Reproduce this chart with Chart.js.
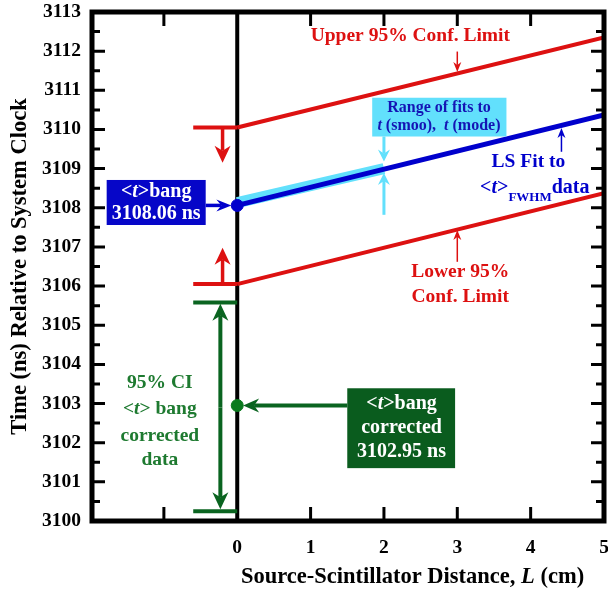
<!DOCTYPE html>
<html>
<head>
<meta charset="utf-8">
<script src="https://cdn.jsdelivr.net/npm/chart.js@4.4.0/dist/chart.umd.min.js"></script>
<style>
  html, body { margin: 0; padding: 0; background: #fff; }
  #wrap { width: 608px; height: 591px; }
</style>
</head>
<body>
<div id="wrap"><canvas id="chart" width="608" height="591"></canvas></div>
<script>
// --- data ---
const xRange = [-1.98, 5];
const yRange = [3100, 3113];
const fitX = [0, 5];
const fitY = [3108.06, 3110.37];      // LS fit to <t>FWHM
const upperY = [3110.05, 3112.35];    // upper 95% conf. limit
const lowerY = [3106.05, 3108.37];    // lower 95% conf. limit
const rangeX = [0, 2];
const rangeY = [3108.13, 3109.0];     // range of fits t(smoo), t(mode)
const bangT = 3108.06;
const correctedT = 3102.95;
const ciLimits = [3105.58, 3100.25];
const markerX = [-0.6, 0];

const SERIF = "'Liberation Serif', 'Times New Roman', serif";
const RED = '#dd1111';
const BLUE = '#0000cc';
const CYAN = '#62e0fc';
const GREEN = '#0a6420';

function pts(xs, ys) {
    return xs.map((x, i) => ({ x: x, y: ys[i] }));
}

function lineSet(data, color, width, order) {
    return {
        data: data,
        showLine: true,
        borderColor: color,
        borderWidth: width,
        pointRadius: 0,
        borderCapStyle: 'butt',
        order: order
    };
}

// draw text made of pieces (italic / subscript)
function rich(ctx, parts, x, y, align) {
    let total = 0;
    parts.forEach(p => {
        ctx.font = (p.italic ? 'italic ' : '') + 'bold ' + (p.size || 19.5) + 'px ' + SERIF;
        p.w = ctx.measureText(p.t).width;
        total += p.w;
    });
    let cx = align === 'left' ? x : x - total / 2;
    ctx.textAlign = 'left';
    ctx.textBaseline = 'middle';
    parts.forEach(p => {
        ctx.font = (p.italic ? 'italic ' : '') + 'bold ' + (p.size || 19.5) + 'px ' + SERIF;
        ctx.fillText(p.t, cx, y + (p.dy || 0));
        cx += p.w;
    });
}

function arrow(ctx, x1, y1, x2, y2, color, width, len, half, notch) {
    const ang = Math.atan2(y2 - y1, x2 - x1);
    const back = len - notch;
    ctx.strokeStyle = color;
    ctx.fillStyle = color;
    ctx.lineWidth = width;
    ctx.beginPath();
    ctx.moveTo(x1, y1);
    ctx.lineTo(x2 - back * Math.cos(ang), y2 - back * Math.sin(ang));
    ctx.stroke();
    ctx.save();
    ctx.translate(x2, y2);
    ctx.rotate(ang);
    ctx.beginPath();
    ctx.moveTo(0, 0);
    ctx.lineTo(-len, -half);
    ctx.lineTo(-len + notch, 0);
    ctx.lineTo(-len, half);
    ctx.closePath();
    ctx.fill();
    ctx.restore();
}

function noPadding(s) {
    s.paddingTop = 0;
    s.paddingBottom = 0;
    s.paddingLeft = 0;
    s.paddingRight = 0;
}

const annotations = {
    id: 'annotations',
    afterDraw(chart) {
        const ctx = chart.ctx;
        const xs = chart.scales.x, ys = chart.scales.y;
        const X = v => xs.getPixelForValue(v);
        const Y = v => ys.getPixelForValue(v);
        const a = chart.chartArea;
        ctx.save();

        // frame and inward ticks
        ctx.strokeStyle = '#000';
        ctx.lineWidth = 5;
        ctx.strokeRect(a.left, a.top, a.right - a.left, a.bottom - a.top);
        ctx.lineWidth = 3;
        ctx.beginPath();
        for (let v = yRange[0]; v <= yRange[1]; v += 0.5) {
            const l = Number.isInteger(v) ? 13 : 8;
            ctx.moveTo(a.left, Y(v)); ctx.lineTo(a.left + l, Y(v));
            ctx.moveTo(a.right, Y(v)); ctx.lineTo(a.right - l, Y(v));
        }
        [-1, 1, 2, 3, 4].forEach(v => {
            ctx.moveTo(X(v), a.bottom); ctx.lineTo(X(v), a.bottom - 14);
            ctx.moveTo(X(v), a.top); ctx.lineTo(X(v), a.top + 14);
        });
        ctx.stroke();

        // red arrows at conf. limits at L=0
        arrow(ctx, X(-0.2), Y(upperY[0]), X(-0.2), Y(3109.15), RED, 3.5, 17, 8, 5);
        arrow(ctx, X(-0.2), Y(lowerY[0]), X(-0.2), Y(3106.98), RED, 3.5, 17, 8, 5);

        // green CI double arrow
        arrow(ctx, X(-0.23), Y(3102.9), X(-0.23), Y(ciLimits[0] - 0.03), GREEN, 4, 17, 8, 5);
        arrow(ctx, X(-0.23), Y(3102.9), X(-0.23), Y(ciLimits[1] + 0.05), GREEN, 4, 17, 8, 5);

        // blue box
        ctx.fillStyle = '#0606c8';
        ctx.fillRect(X(-1.78), Y(3108.71), X(-0.43) - X(-1.78), Y(3107.56) - Y(3108.71));
        arrow(ctx, X(-0.43), Y(bangT), X(-0.08), Y(bangT), BLUE, 3.5, 15, 6, 5);
        ctx.fillStyle = '#fff';
        rich(ctx, [{ t: '<', size: 20 }, { t: 't', italic: true, size: 20 }, { t: '>bang', size: 20 }], X(-1.105), Y(3108.41));
        rich(ctx, [{ t: '3108.06 ns', size: 20 }], X(-1.105), Y(3107.84));

        // green box
        ctx.fillStyle = '#0a5c1e';
        ctx.fillRect(X(1.5), Y(3103.39), X(2.97) - X(1.5), Y(3101.35) - Y(3103.39));
        arrow(ctx, X(1.5), Y(correctedT), X(0.08), Y(correctedT), GREEN, 4, 16, 7, 5);
        ctx.fillStyle = '#fff';
        rich(ctx, [{ t: '<', size: 20 }, { t: 't', italic: true, size: 20 }, { t: '>bang', size: 20 }], X(2.24), Y(3102.98));
        rich(ctx, [{ t: 'corrected', size: 20 }], X(2.24), Y(3102.37));
        rich(ctx, [{ t: '3102.95 ns', size: 20 }], X(2.24), Y(3101.76));

        // green side text
        ctx.fillStyle = '#1e7a30';
        rich(ctx, [{ t: '95% CI' }], X(-1.055), Y(3103.53));
        rich(ctx, [{ t: '<' }, { t: 't', italic: true }, { t: '> bang' }], X(-1.055), Y(3102.85));
        rich(ctx, [{ t: 'corrected' }], X(-1.055), Y(3102.18));
        rich(ctx, [{ t: 'data' }], X(-1.055), Y(3101.55));

        // cyan box
        ctx.fillStyle = CYAN;
        ctx.fillRect(X(1.84), Y(3110.81), X(3.67) - X(1.84), Y(3109.82) - Y(3110.81));
        arrow(ctx, X(2.0), Y(3109.82), X(2.0), Y(3109.18), CYAN, 3, 12, 6, 4);
        arrow(ctx, X(2.0), Y(3107.82), X(2.0), Y(3108.89), CYAN, 3, 12, 6, 4);
        ctx.fillStyle = '#1414b4';
        rich(ctx, [{ t: 'Range of fits to', size: 16 }], X(2.75), Y(3110.56));
        rich(ctx, [{ t: 't', italic: true, size: 16 }, { t: ' (smoo),  ', size: 16 },
                   { t: 't', italic: true, size: 16 }, { t: ' (mode)', size: 16 }], X(2.75), Y(3110.08));

        // red labels
        ctx.fillStyle = RED;
        rich(ctx, [{ t: 'Upper 95% Conf. Limit' }], X(2.36), Y(3112.4));
        arrow(ctx, X(3), Y(3111.99), X(3), Y(3111.47), RED, 1.5, 10, 4, 3);
        rich(ctx, [{ t: 'Lower 95%' }], X(3.04), Y(3106.36));
        rich(ctx, [{ t: 'Conf. Limit' }], X(3.04), Y(3105.72));
        arrow(ctx, X(3), Y(3106.62), X(3), Y(3107.43), RED, 1.5, 10, 4, 3);

        // blue LS fit label
        ctx.fillStyle = BLUE;
        rich(ctx, [{ t: 'LS Fit to' }], X(3.97), Y(3109.17));
        rich(ctx, [{ t: '<', size: 20 }, { t: 't', italic: true, size: 20 }, { t: '>', size: 20 },
                   { t: 'FWHM', size: 13, dy: 10 }, { t: 'data', size: 20 }], X(3.31), Y(3108.51), 'left');
        arrow(ctx, X(4.42), Y(3109.43), X(4.42), Y(3110.04), BLUE, 1.5, 10, 4, 3);

        // x axis title
        ctx.fillStyle = '#000';
        rich(ctx, [{ t: 'Source-Scintillator Distance, ', size: 22.5 }, { t: 'L', italic: true, size: 22.5 },
                   { t: ' (cm)', size: 22.5 }], X(2.39), a.bottom + 56);
        ctx.restore();
    }
};

new Chart(document.getElementById('chart'), {
    type: 'scatter',
    data: {
        datasets: [
            {
                data: [{ x: 0, y: bangT }],
                backgroundColor: BLUE, borderColor: BLUE, pointRadius: 6, order: 0
            },
            {
                data: [{ x: 0, y: correctedT }],
                backgroundColor: '#0a7a1e', borderColor: '#0a7a1e', pointRadius: 6, order: 0
            },
            lineSet(pts(fitX, fitY), BLUE, 5, 1),
            lineSet(pts(rangeX, rangeY), CYAN, 11, 2),
            lineSet(pts(fitX, upperY), RED, 4, 3),
            lineSet(pts(fitX, lowerY), RED, 4, 3),
            lineSet(pts(markerX, [upperY[0], upperY[0]]), RED, 4, 3),
            lineSet(pts(markerX, [lowerY[0], lowerY[0]]), RED, 4, 3),
            lineSet(pts(markerX, [ciLimits[0], ciLimits[0]]), GREEN, 4, 3),
            lineSet(pts(markerX, [ciLimits[1], ciLimits[1]]), GREEN, 4, 3),
            lineSet(pts([0, 0], yRange), '#000', 4, 5)
        ]
    },
    options: {
        responsive: false,
        animation: false,
        layout: { autoPadding: false, padding: { left: 0, top: 12, right: 4, bottom: 0 } },
        plugins: { legend: { display: false }, tooltip: { enabled: false } },
        scales: {
            x: {
                type: 'linear',
                min: xRange[0],
                max: xRange[1],
                afterFit: s => { s.height = 70; noPadding(s); },
                afterBuildTicks: s => { s.ticks = [-1, 0, 1, 2, 3, 4, 5].map(v => ({ value: v })); },
                grid: { display: false },
                border: { display: false },
                ticks: {
                    callback: v => (v >= 0 ? String(v) : ''),
                    color: '#000',
                    font: { family: SERIF, size: 19.5, weight: 'bold' },
                    padding: 7,
                    maxRotation: 0,
                    autoSkip: false
                }
            },
            y: {
                min: yRange[0],
                max: yRange[1],
                afterFit: s => { s.width = 92; noPadding(s); },
                grid: { display: false, drawTicks: false },
                border: { display: false },
                ticks: {
                    stepSize: 1,
                    callback: v => String(v),
                    color: '#000',
                    font: { family: SERIF, size: 19.5, weight: 'bold' },
                    padding: 11
                },
                title: {
                    display: true,
                    text: 'Time (ns) Relative to System Clock',
                    color: '#000',
                    font: { family: SERIF, size: 22.5, weight: 'bold' },
                    padding: { top: 7, bottom: 0 }
                }
            }
        }
    },
    plugins: [annotations]
});
</script>
</body>
</html>
